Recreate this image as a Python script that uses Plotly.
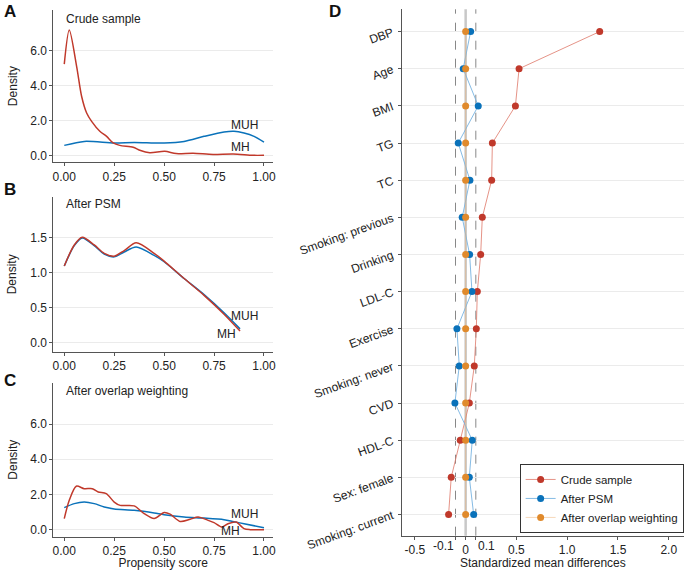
import plotly.graph_objects as go

# Panel A: crude sample densities
a_mh_x = [0.0, 0.025, 0.062, 0.087, 0.112, 0.137, 0.178, 0.212, 0.245, 0.278, 0.345, 0.378,
          0.428, 0.503, 0.56, 0.645, 0.745, 0.845, 0.945, 1.0]
a_mh_y = [5.24, 7.2, 5.1, 3.38, 2.43, 1.95, 1.38, 1.09, 0.71, 0.57, 0.46, 0.29,
          0.15, 0.23, 0.1, 0.12, 0.05, 0.08, 0.0, 0.0]
a_muh_x = [0.0, 0.1, 0.25, 0.35, 0.5, 0.6, 0.7, 0.8, 0.85, 0.9, 0.95, 1.0]
a_muh_y = [0.57, 0.8, 0.71, 0.74, 0.71, 0.8, 1.09, 1.34, 1.38, 1.28, 1.09, 0.76]

# Panel B: after PSM
b_x = [0.0, 0.05, 0.09, 0.15, 0.2, 0.25, 0.3, 0.36, 0.45, 0.5, 0.6, 0.7, 0.8, 0.88]
b_mh_y = [1.10, 1.40, 1.51, 1.40, 1.28, 1.24, 1.32, 1.43, 1.28, 1.17, 0.92, 0.68, 0.41, 0.17]
b_muh_y = [1.10, 1.39, 1.50, 1.39, 1.27, 1.23, 1.30, 1.37, 1.25, 1.16, 0.92, 0.69, 0.43, 0.20]

# Panel C: after overlap weighting
c_mh_x = [0.0, 0.025, 0.06, 0.1, 0.14, 0.17, 0.21, 0.25, 0.28, 0.35, 0.4, 0.45, 0.5, 0.53,
          0.58, 0.63, 0.67, 0.72, 0.75, 0.79, 0.82, 0.86, 0.9, 0.93, 1.0]
c_mh_y = [0.63, 1.67, 2.47, 2.33, 2.33, 2.14, 2.05, 1.57, 1.38, 1.35, 0.91, 0.63, 0.97, 0.88,
          0.47, 0.59, 0.72, 0.53, 0.40, 0.15, 0.34, 0.43, 0.06, 0.0, 0.0]
c_muh_x = [0.0, 0.05, 0.1, 0.15, 0.2, 0.25, 0.35, 0.45, 0.5, 0.6, 0.7, 0.8, 0.85, 0.9, 1.0]
c_muh_y = [1.25, 1.48, 1.57, 1.48, 1.29, 1.18, 1.1, 0.95, 0.85, 0.72, 0.66, 0.57, 0.45, 0.34, 0.11]

# Panel D: standardized mean differences (bottom to top)
covariates = ["Smoking: current", "Sex: female", "HDL-C", "CVD", "Smoking: never", "Exercise",
              "LDL-C", "Drinking", "Smoking: previous", "TC", "TG", "BMI", "Age", "DBP"]
smd_crude = [-0.168, -0.142, -0.053, 0.036, 0.085, 0.105, 0.115, 0.148, 0.164, 0.256, 0.263,
             0.49, 0.526, 1.32]
smd_psm = [0.079, 0.036, 0.065, -0.106, -0.063, -0.086, 0.062, 0.039, -0.034, 0.042, -0.073,
           0.124, -0.024, 0.049]
smd_ow = [0.0] * 14

x_ticks_d = [-0.5, -0.1, 0, 0.1, 0.5, 1.0, 1.5, 2.0]
# -0.1 and 0.1 are written separately (right/left aligned to their ticks)
x_ticktext_d = ["-0.5", "", "0", "", "0.5", "1.0", "1.5", "2.0"]

RED = "#C0392B"
BLUE = "#0A72BA"
ORANGE = "#E08A2C"
FONT = "Liberation Sans, Arial, sans-serif"

fig = go.Figure()

density_panels = [
    ("x", "y", a_mh_x, a_mh_y, a_muh_x, a_muh_y),
    ("x2", "y2", b_x, b_mh_y, b_x, b_muh_y),
    ("x3", "y3", c_mh_x, c_mh_y, c_muh_x, c_muh_y),
]
for xa, ya, mhx, mhy, muhx, muhy in density_panels:
    fig.add_trace(go.Scatter(x=muhx, y=muhy, xaxis=xa, yaxis=ya, mode="lines",
                             line=dict(color=BLUE, width=1.5, shape="spline", smoothing=0.8),
                             showlegend=False, hoverinfo="skip"))
    fig.add_trace(go.Scatter(x=mhx, y=mhy, xaxis=xa, yaxis=ya, mode="lines",
                             line=dict(color=RED, width=1.5, shape="spline", smoothing=0.8),
                             showlegend=False, hoverinfo="skip"))

# Panel D series
fig.add_trace(go.Scatter(x=smd_crude, y=covariates, xaxis="x4", yaxis="y4", mode="lines+markers",
                         name="Crude sample", line=dict(color="rgba(222,120,105,0.8)", width=1),
                         marker=dict(color=RED, size=7)))
fig.add_trace(go.Scatter(x=smd_psm, y=covariates, xaxis="x4", yaxis="y4", mode="lines+markers",
                         name="After PSM", line=dict(color="rgba(120,180,225,0.9)", width=1),
                         marker=dict(color=BLUE, size=7)))
fig.add_trace(go.Scatter(x=smd_ow, y=covariates, xaxis="x4", yaxis="y4", mode="lines+markers",
                         name="After overlap weighting",
                         line=dict(color="rgba(240,180,120,0.5)", width=1),
                         marker=dict(color=ORANGE, size=7)))

axis_common = dict(showline=True, linecolor="#555", linewidth=1, ticks="outside",
                   ticklen=3, tickcolor="#555", tickfont=dict(size=12, color="#222"),
                   zeroline=False, automargin=False)

dens_x = dict(range=[-0.055, 1.045], tickvals=[0, 0.25, 0.5, 0.75, 1.0],
              tickformat=".2f", showgrid=False, tickangle=0, **axis_common)
dens_y_big = dict(range=[-0.4, 8.35], tickvals=[0, 2, 4, 6], tickformat=".1f",
                  showgrid=True, gridcolor="#ebebeb", **axis_common)

fig.update_layout(
    width=685, height=570,
    margin=dict(l=0, r=0, t=0, b=0),
    paper_bgcolor="white", plot_bgcolor="white",
    font=dict(family=FONT, size=12, color="#222"),
    xaxis=dict(domain=[0.0778, 0.3985], anchor="y", **dens_x),
    yaxis=dict(domain=[0.7153, 0.9825], anchor="x",
               title=dict(text="Density", font=dict(size=12), standoff=10), **dens_y_big),
    xaxis2=dict(domain=[0.0778, 0.3985], anchor="y2", **dens_x),
    yaxis2=dict(domain=[0.3825, 0.6549], anchor="x2", range=[-0.13, 2.09],
                tickvals=[0, 0.5, 1.0, 1.5], tickformat=".1f", showgrid=True,
                gridcolor="#ebebeb", title=dict(text="Density", font=dict(size=12), standoff=10),
                **axis_common),
    xaxis3=dict(domain=[0.0778, 0.3985], anchor="y3",
                title=dict(text="Propensity score", font=dict(size=12), standoff=7), **dens_x),
    yaxis3=dict(domain=[0.0584, 0.3286], anchor="x3",
                title=dict(text="Density", font=dict(size=12), standoff=10), **dens_y_big),
    xaxis4=dict(domain=[0.5864, 0.9985], anchor="y4", range=[-0.63, 2.15],
                tickvals=x_ticks_d, ticktext=x_ticktext_d, showgrid=False, tickangle=0,
                title=dict(text="Standardized mean differences", font=dict(size=12), standoff=7),
                **axis_common),
    yaxis4=dict(domain=[0.0602, 0.9837], anchor="x4", type="category",
                categoryorder="array", categoryarray=covariates, range=[-0.57, 13.6],
                tickangle=-20, ticklabelstandoff=3, showgrid=True, gridcolor="#ebebeb",
                **axis_common),
    legend=dict(x=0.998, xanchor="right", y=0.065, yanchor="bottom",
                bgcolor="white", bordercolor="#333", borderwidth=1,
                font=dict(size=11.5, color="#222"), tracegroupgap=0, itemwidth=30),
)

# -0.1 / 0.1 tick labels, hugging their ticks
fig.add_annotation(text="-0.1", x=-0.1, y=0.042, xref="x4", yref="paper", xanchor="right",
                   yanchor="middle", showarrow=False, font=dict(size=12, color="#222"))
fig.add_annotation(text="0.1", x=0.1, y=0.042, xref="x4", yref="paper", xanchor="left",
                   yanchor="middle", showarrow=False, font=dict(size=12, color="#222"))

# reference lines in panel D
fig.add_shape(type="line", xref="x4", yref="y4 domain", x0=0, x1=0, y0=0, y1=1,
              line=dict(color="#c8c8c8", width=2.5), layer="below")
for v in (-0.1, 0.1):
    fig.add_shape(type="line", xref="x4", yref="y4 domain", x0=v, x1=v, y0=0, y1=1,
                  line=dict(color="#888", width=1, dash="dash"), layer="below")

# panel letters
for letter, px, py in [("A", 0.003, 1.0), ("B", 0.003, 0.688), ("C", 0.003, 0.352),
                       ("D", 0.478, 1.0)]:
    fig.add_annotation(text=f"<b>{letter}</b>", x=px, y=py, xref="paper", yref="paper",
                       xanchor="left", yanchor="top", showarrow=False,
                       font=dict(size=17, color="#111"))

# panel titles
for title, xa, ya, yv in [("Crude sample", "x", "y", 7.85), ("After PSM", "x2", "y2", 1.98),
                          ("After overlap weighting", "x3", "y3", 7.85)]:
    fig.add_annotation(text=title, x=0.0, y=yv, xref=xa, yref=ya, xanchor="left",
                       showarrow=False, font=dict(size=12, color="#222"))

# curve labels
for text, xa, ya, xv, yv in [("MUH", "x", "y", 0.90, 1.76), ("MH", "x", "y", 0.88, 0.46),
                             ("MUH", "x2", "y2", 0.90, 0.39), ("MH", "x2", "y2", 0.81, 0.12),
                             ("MUH", "x3", "y3", 0.90, 0.91), ("MH", "x3", "y3", 0.83, -0.1)]:
    fig.add_annotation(text=text, x=xv, y=yv, xref=xa, yref=ya, showarrow=False,
                       font=dict(size=12, color="#222"))

# make the page exactly the figure size (no default body margin, no scrollbars)
page_js = ("document.documentElement.style.overflow='hidden';"
           "document.body.style.margin='0';"
           "document.body.style.overflow='hidden';")
fig.write_html("out.html", post_script=page_js, config={"displayModeBar": False})
